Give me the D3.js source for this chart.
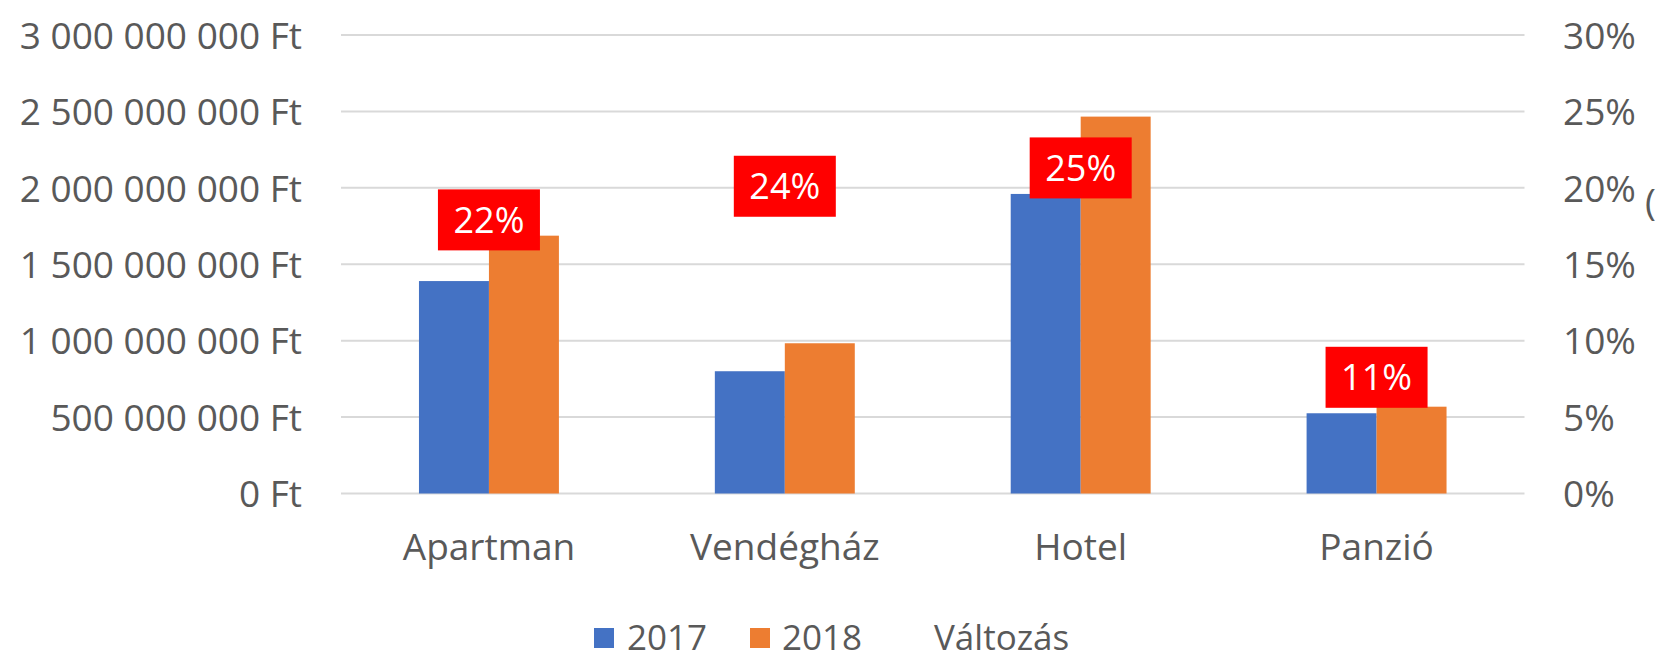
<!DOCTYPE html>
<html>
<head>
<meta charset="utf-8">
<script src="https://cdn.jsdelivr.net/npm/d3@7"></script>
<style>
  html, body { margin: 0; padding: 0; background: #ffffff; }
  svg { display: block; font-family: "Open Sans", "Noto Sans", sans-serif; }
</style>
</head>
<body>
<svg id="chart" width="1660" height="654"></svg>
<script>
// ---- data ----
const categories = ["Apartman", "Vendégház", "Hotel", "Panzió"];
const seriesNames = ["2017", "2018"];
const values2017 = [1390000000, 800000000, 1960000000, 525000000];
const values2018 = [1687000000, 983000000, 2466000000, 568000000];
const changeValues = [0.216, 0.238, 0.25, 0.113];
const leftTicks = [0, 500000000, 1000000000, 1500000000, 2000000000, 2500000000, 3000000000];
const rightTicks = [0, 0.05, 0.10, 0.15, 0.20, 0.25, 0.30];
const changeName = "Változás";

// ---- layout ----
const W = 1660, H = 654;
const plotLeft = 341, plotRight = 1524.5, plotTop = 35, plotBottom = 493.5;
const colors = { "2017": "#4472C4", "2018": "#ED7D31" };
const textColor = "#595959";
const gridColor = "#D9D9D9";

const svg = d3.select("#chart");
svg.append("rect").attr("width", W).attr("height", H).attr("fill", "#ffffff");

const locale = d3.formatLocale({ decimal: ",", thousands: " ", grouping: [3], currency: ["", " Ft"] });
const fmtFt = locale.format("$,.0f");
const fmtPct = d3.format(".0%");

const y = d3.scaleLinear().domain([0, 3000000000]).range([plotBottom, plotTop]);
const yR = d3.scaleLinear().domain([0, 0.30]).range([plotBottom, plotTop]);
const x0 = d3.scaleBand().domain(categories).range([plotLeft, plotRight]).padding(0);
const bw = x0.bandwidth();
const x1 = d3.scaleBand().domain(seriesNames).range([bw * 0.2635, bw * 0.7365]).padding(0);

// gridlines
svg.append("g").selectAll("line").data(leftTicks).join("line")
  .attr("x1", plotLeft).attr("x2", plotRight)
  .attr("y1", d => y(d)).attr("y2", d => y(d))
  .attr("stroke", gridColor).attr("stroke-width", 2);

// left axis
const gL = svg.append("g").attr("transform", `translate(${302},0)`)
  .call(d3.axisLeft(y).tickValues(leftTicks).tickFormat(fmtFt).tickSize(0).tickPadding(0));
gL.select(".domain").remove();
gL.selectAll("text").attr("fill", textColor).style("font-size", "37px")
  .style("font-family", '"Open Sans", sans-serif').attr("dy", "0.36em");

// right axis
const gR = svg.append("g").attr("transform", `translate(${1563},0)`)
  .call(d3.axisRight(yR).tickValues(rightTicks).tickFormat(fmtPct).tickSize(0).tickPadding(0));
gR.select(".domain").remove();
gR.selectAll("text").attr("fill", textColor).style("font-size", "37px")
  .style("font-family", '"Open Sans", sans-serif').attr("dy", "0.36em");

// partially visible secondary axis title
svg.append("text").attr("x", 1645).attr("y", 215)
  .attr("fill", textColor).style("font-size", "37px").text("(");

// bars
const rows = categories.map((c, i) => ({ cat: c, vals: [
  { key: "2017", v: values2017[i] }, { key: "2018", v: values2018[i] } ] }));
const groups = svg.append("g").selectAll("g").data(rows).join("g")
  .attr("transform", d => `translate(${x0(d.cat)},0)`);
groups.selectAll("rect").data(d => d.vals).join("rect")
  .attr("x", d => x1(d.key)).attr("width", x1.bandwidth())
  .attr("y", d => y(d.v)).attr("height", d => y(0) - y(d.v))
  .attr("fill", d => colors[d.key]);

// category labels
const gX = svg.append("g").attr("transform", `translate(0,${560})`)
  .call(d3.axisBottom(x0).tickSize(0).tickPadding(0));
gX.select(".domain").remove();
gX.selectAll("text").attr("fill", textColor).style("font-size", "37px")
  .style("font-family", '"Open Sans", sans-serif').attr("dy", "0");

// change labels (Változás series on secondary axis, labels below invisible points)
const labelW = 102, labelH = 61, labelOffset = 56.5;
const lab = svg.append("g").selectAll("g").data(categories.map((c, i) => ({ cat: c, v: changeValues[i] })))
  .join("g")
  .attr("transform", d => `translate(${x0(d.cat) + bw / 2},${yR(d.v) + labelOffset})`);
lab.append("rect").attr("x", -labelW / 2).attr("y", -labelH / 2)
  .attr("width", labelW).attr("height", labelH).attr("fill", "#FF0000");
lab.append("text").attr("text-anchor", "middle").attr("dy", "0.36em")
  .attr("fill", "#ffffff").style("font-size", "36px").text(d => fmtPct(d.v));

// legend
const legendY = 637;
const legendItems = [
  { name: seriesNames[0], color: colors["2017"], sx: 594, tx: 627 },
  { name: seriesNames[1], color: colors["2018"], sx: 750, tx: 782 },
  { name: changeName, color: null, sx: null, tx: 934 }
];
const lg = svg.append("g");
legendItems.forEach(it => {
  if (it.color) {
    lg.append("rect").attr("x", it.sx).attr("y", legendY - 9).attr("width", 20).attr("height", 20)
      .attr("fill", it.color);
  }
  lg.append("text").attr("x", it.tx).attr("y", legendY).attr("dy", "0.36em")
    .attr("fill", textColor).style("font-size", "35px").text(it.name);
});
</script>
</body>
</html>
